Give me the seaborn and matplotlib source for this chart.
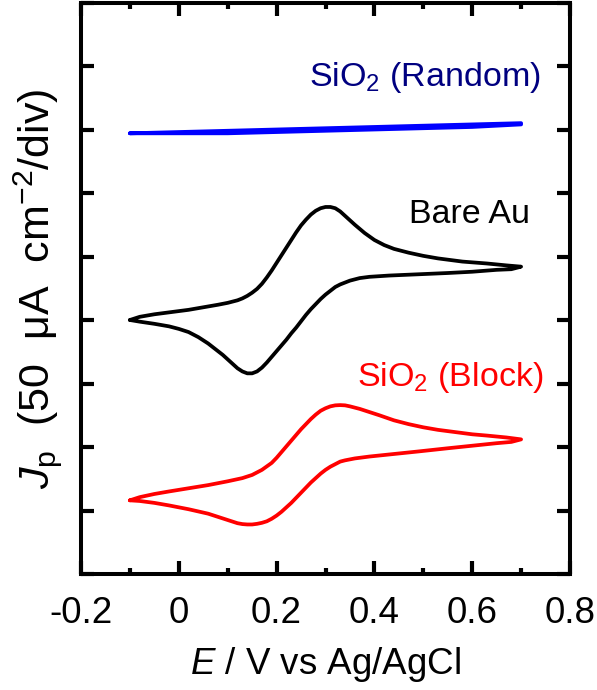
import numpy as np
import pandas as pd
import matplotlib
matplotlib.use('Agg')
import matplotlib.pyplot as plt
from matplotlib.ticker import MultipleLocator
import seaborn as sns

# CV curves, offset vertically (J in uA cm^-2, 50 per division)
# Bare Au: forward (anodic) scan then reverse scan
au_E_fwd = [-0.10, -0.08, -0.05, -0.02, 0.02, 0.05, 0.08, 0.10, 0.12, 0.13, 0.14, 0.15, 0.16, 0.17, 0.18, 0.19,
            0.20, 0.21, 0.22, 0.23, 0.24, 0.25, 0.26, 0.27, 0.28, 0.29, 0.30, 0.31, 0.32, 0.33, 0.34, 0.35, 0.36,
            0.38, 0.40, 0.42, 0.44, 0.47, 0.50, 0.53, 0.58, 0.63, 0.67, 0.70]
au_J_fwd = [200, 202.5, 204.5, 206, 208, 210, 212, 213.5, 215.5, 217, 219, 221.5, 224.5, 228.5, 233.5, 239,
            245, 251, 257, 263, 269, 274.5, 279, 283, 286, 288, 289, 289, 288, 285.5, 282, 278.5, 275,
            268.5, 263, 259, 256, 253, 250.5, 248.5, 246, 244.5, 243, 242]
au_E_rev = [0.70, 0.68, 0.65, 0.60, 0.55, 0.49, 0.43, 0.39, 0.37, 0.35, 0.33, 0.32, 0.31, 0.30, 0.29, 0.28,
            0.27, 0.26, 0.25, 0.24, 0.23, 0.22, 0.21, 0.20, 0.19, 0.18, 0.17, 0.16, 0.15, 0.14, 0.13, 0.12,
            0.11, 0.10, 0.09, 0.08, 0.07, 0.06, 0.05, 0.04, 0.03, 0.02, 0.0, -0.02, -0.05, -0.08, -0.10]
au_J_rev = [242, 240, 239.5, 238, 237, 236, 235, 234, 233, 231, 228, 226, 223, 220, 216.5, 212.5,
            208.5, 204, 199, 194, 189.5, 184.5, 180, 175.5, 171, 166.5, 162.5, 159.5, 158, 158, 159.5, 162,
            165.5, 169, 172.5, 175.5, 178.5, 181.5, 184, 186.5, 188.5, 190.5, 193, 195, 197, 198.7, 200]

# SiO2 (Block)
blk_E_fwd = [-0.10, -0.08, -0.05, -0.02, 0.02, 0.06, 0.10, 0.13, 0.15, 0.17, 0.19, 0.20, 0.21, 0.22, 0.23,
             0.24, 0.25, 0.26, 0.27, 0.28, 0.29, 0.30, 0.31, 0.32, 0.33, 0.34, 0.35, 0.37, 0.39, 0.41, 0.44,
             0.47, 0.50, 0.53, 0.56, 0.60, 0.63, 0.67, 0.70]
blk_J_fwd = [58, 60.5, 63, 65, 67.5, 70, 73, 75.5, 78, 82, 87.5, 91.5, 96, 100.5, 105,
             109.5, 114, 118, 122, 125.5, 128.5, 130.5, 132, 132.8, 133, 132.8, 132, 130, 127.5, 125, 121,
             118, 115.5, 113.5, 112, 110, 109, 107.5, 106]
blk_E_rev = [0.70, 0.68, 0.65, 0.60, 0.55, 0.49, 0.44, 0.39, 0.36, 0.34, 0.33, 0.32, 0.31, 0.30, 0.29, 0.28,
             0.27, 0.26, 0.25, 0.24, 0.23, 0.22, 0.21, 0.20, 0.19, 0.18, 0.17, 0.16, 0.15, 0.14, 0.13, 0.12,
             0.10, 0.08, 0.06, 0.02, -0.02, -0.05, -0.08, -0.10]
blk_J_rev = [106, 104, 103, 101, 99, 96.5, 94.5, 92.5, 91, 89.5, 88.5, 86.5, 84.5, 82, 79, 75.5,
             72, 68, 64, 60, 56, 52.5, 49, 46, 43.5, 41.5, 40.3, 39.5, 39, 39, 39.3, 40,
             42.5, 45, 47.5, 51, 54, 56, 57.5, 58]

# SiO2 (Random)
rnd_E_fwd = [-0.10, 0.10, 0.30, 0.50, 0.70]
rnd_J_fwd = [347, 349, 351, 353, 355]
rnd_E_rev = [0.70, 0.60, 0.50, 0.30, 0.10, -0.10]
rnd_J_rev = [354, 352, 351, 349, 347, 347]

x_ticks = [-0.2, 0, 0.2, 0.4, 0.6, 0.8]
x_ticklabels = ['-0.2', '0', '0.2', '0.4', '0.6', '0.8']

curves = [
    ('Random', rnd_E_fwd + rnd_E_rev, rnd_J_fwd + rnd_J_rev, '#0000FF'),
    ('Bare Au', au_E_fwd + au_E_rev, au_J_fwd + au_J_rev, 'black'),
    ('Block', blk_E_fwd + blk_E_rev, blk_J_fwd + blk_J_rev, '#FF0000'),
]

sns.set_style('ticks')
plt.rcParams['font.family'] = ['Liberation Sans', 'DejaVu Sans']
plt.rcParams['mathtext.fontset'] = 'custom'
plt.rcParams['mathtext.rm'] = 'Liberation Sans'
plt.rcParams['mathtext.it'] = 'Liberation Sans:italic'
plt.rcParams['text.color'] = 'black'
plt.rcParams['axes.labelcolor'] = 'black'

fig, ax = plt.subplots(figsize=(5.97, 6.90), dpi=100)
fig.subplots_adjust(left=81/597, right=570/597, top=1 - 2.5/690, bottom=1 - 574/690)

for name, E, J, col in curves:
    df = pd.DataFrame({'E': E, 'J': J})
    sns.lineplot(data=df, x='E', y='J', sort=False, estimator=None, color=col,
                 lw=2.7, ax=ax, solid_joinstyle='round', solid_capstyle='round')

ax.set_xlim(-0.2, 0.8)
ax.set_ylim(0, 450)
ax.set_xticks(x_ticks)
ax.set_xticklabels(x_ticklabels)
ax.xaxis.set_minor_locator(MultipleLocator(0.1))
ax.yaxis.set_major_locator(MultipleLocator(50))
ax.set_yticklabels([])

ax.tick_params(which='both', direction='in', top=True, right=True, width=3,
               color='black', labelcolor='black')
ax.tick_params(which='major', length=9.5, labelsize=26.5, pad=16)
ax.tick_params(which='minor', length=4.5)
for s in ax.spines.values():
    s.set_linewidth(2.9)
    s.set_color('black')

ax.set_xlabel('$E$ / V vs Ag/AgCl', fontsize=26.5, labelpad=10)
ax.set_ylabel('$J_\\mathrm{p}$  (50  μA  cm$^{-2}$/div)', fontsize=31, labelpad=-4)

ax.text(0.739, 384, 'SiO$_2$ (Random)', color='#000080', fontsize=24.5, ha='right', va='baseline')
ax.text(0.718, 276, 'Bare Au', color='black', fontsize=24.5, ha='right', va='baseline')
ax.text(0.745, 148, 'SiO$_2$ (Block)', color='#FF0000', fontsize=24.5, ha='right', va='baseline')

plt.savefig('out.png', dpi=100)
